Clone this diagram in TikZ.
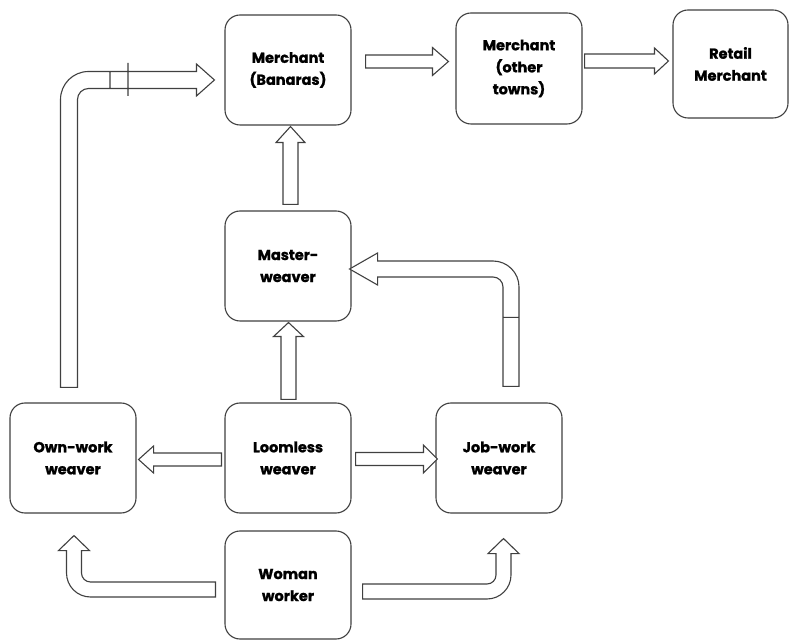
\documentclass[tikz,border=0pt]{standalone}
\usepackage{fontspec}
\setmainfont{Poppins}[BoldFeatures={FakeBold=1.2}]
\usetikzlibrary{calc}
\tikzset{
  box/.style={draw=black!75, line width=1.1pt, rounded corners=15pt, fill=white,
    minimum width=126pt, minimum height=110pt, inner sep=2pt, align=center,
    font=\bfseries\fontsize{14.5}{22}\selectfont},
  blk/.style={draw=black!75, line width=1.1pt, fill=white, line join=miter},
  tick/.style={draw=black!75, line width=1.1pt}
}
% straight horizontal block arrow: start, tip, signed head length, half shaft, half head
\newcommand\harr[5]{\draw[blk] let \p1=#1, \p2=#2 in
  (\x1,{\y1+#4}) -- ({\x2-(#3)},{\y1+#4}) -- ({\x2-(#3)},{\y1+#5}) -- (\x2,\y1)
  -- ({\x2-(#3)},{\y1-#5}) -- ({\x2-(#3)},{\y1-#4}) -- (\x1,{\y1-#4}) -- cycle;}
% straight vertical block arrow
\newcommand\varr[5]{\draw[blk] let \p1=#1, \p2=#2 in
  ({\x1+#4},\y1) -- ({\x1+#4},{\y2-(#3)}) -- ({\x1+#5},{\y2-(#3)}) -- (\x1,\y2)
  -- ({\x1-#5},{\y2-(#3)}) -- ({\x1-#4},{\y2-(#3)}) -- ({\x1-#4},\y1) -- cycle;}
\begin{document}
\begin{tikzpicture}[x=1pt,y=1pt]
\useasboundingbox (0,0) rectangle (789,640);
\fill[white] (0,0) rectangle (789,640);

\node[box] (mb) at (288,570) {Merchant\\(Banaras)};
\node[box, minimum height=111pt] (mo) at (519,571.5) {Merchant\\(other\\towns)};
\node[box, minimum width=115pt, minimum height=108pt] (rm) at (730.5,576) {Retail\\Merchant};
\node[box] (mw) at (288,374) {Master-\\weaver};
\node[box] (ow) at (73,182) {Own-work\\weaver};
\node[box] (lw) at (288,182) {Loomless\\weaver};
\node[box] (jw) at (499,182) {Job-work\\weaver};
\node[box, minimum height=108pt] (ww) at (288,55) {Woman\\worker};

% straight arrows
\harr{($(mb.east)+(14,8.5)$)}{($(mo.west)+(-7,0)$)}{16pt}{6.5pt}{14pt}
\harr{($(mo.east)+(2,7.5)$)}{($(rm.west)+(-4,0)$)}{14pt}{7pt}{13pt}
\varr{($(mw.north)+(2.5,6)$)}{($(mb.south)+(0,-1)$)}{16pt}{7.5pt}{14.5pt}
\varr{($(lw.north)+(0.5,3)$)}{($(mw.south)+(0,-1)$)}{14pt}{7.5pt}{15pt}
\harr{($(lw.west)+(-3,-1.5)$)}{($(ow.east)+(2,0)$)}{-15pt}{6.5pt}{13.5pt}
\harr{($(lw.east)+(4,-1)$)}{($(jw.west)+(2,0)$)}{14pt}{6.5pt}{14pt}

% own-work weaver -> merchant (Banaras)
\draw[blk] let \p1=($(ow.north)+(-4,15)$), \p2=($(mb.west)+(-10,-10)$) in
  ({\x1-8.5pt},\y1) -- ({\x1-8.5pt},{\y2+8.5pt-28pt}) arc[start angle=180,end angle=90,radius=28pt]
  -- ({\x2-18pt},{\y2+8.5pt}) -- ({\x2-18pt},{\y2+16pt}) -- (\x2,\y2) -- ({\x2-18pt},{\y2-16pt})
  -- ({\x2-18pt},{\y2-8.5pt}) -- ({\x1+8.5pt+11pt},{\y2-8.5pt}) arc[start angle=90,end angle=180,radius=11pt]
  -- ({\x1+8.5pt},\y1) -- cycle
  ({\x1+41pt},{\y2+8.5pt}) -- ({\x1+41pt},{\y2-8.5pt})
  ({\x1+59pt},{\y2+17pt}) -- ({\x1+59pt},{\y2-16pt});

% job-work weaver -> master-weaver
\draw[blk] let \p1=($(jw.north)+(12,16)$), \p2=($(mw.east)+(-2,-3)$) in
  ({\x1+8pt},\y1) -- ({\x1+8pt},{\y2+8pt-26pt}) arc[start angle=0,end angle=90,radius=26pt]
  -- ({\x2+28pt},{\y2+8pt}) -- ({\x2+28pt},{\y2+16pt}) -- (\x2,\y2) -- ({\x2+28pt},{\y2-16pt})
  -- ({\x2+28pt},{\y2-8pt}) -- ({\x1-8pt-10pt},{\y2-8pt}) arc[start angle=90,end angle=0,radius=10pt]
  -- ({\x1-8pt},\y1) -- cycle
  ({\x1-8pt},{\y1+69pt}) -- ({\x1+8pt},{\y1+69pt});

% woman worker -> own-work weaver
\draw[blk] let \p1=($(ww.west)+(-9,-4.5)$), \p2=($(ow.south)+(1,-22)$) in
  (\x1,{\y1+7.5pt}) -- ({\x2+7.5pt+9pt},{\y1+7.5pt}) arc[start angle=270,end angle=180,radius=9pt]
  -- ({\x2+7.5pt},{\y2-15pt}) -- ({\x2+15.5pt},{\y2-15pt}) -- (\x2,\y2) -- ({\x2-15.5pt},{\y2-15pt})
  -- ({\x2-7.5pt},{\y2-15pt}) -- ({\x2-7.5pt},{\y1-7.5pt+24pt}) arc[start angle=180,end angle=270,radius=24pt]
  -- (\x1,{\y1-7.5pt}) -- cycle;

% woman worker -> job-work weaver
\draw[blk] let \p1=($(ww.east)+(11,-6.5)$), \p2=($(jw.south)+(4.5,-25)$) in
  (\x1,{\y1+7.5pt}) -- ({\x2-7.5pt-9pt},{\y1+7.5pt}) arc[start angle=270,end angle=360,radius=9pt]
  -- ({\x2-7.5pt},{\y2-15pt}) -- ({\x2-15.5pt},{\y2-15pt}) -- (\x2,\y2) -- ({\x2+15.5pt},{\y2-15pt})
  -- ({\x2+7.5pt},{\y2-15pt}) -- ({\x2+7.5pt},{\y1-7.5pt+24pt}) arc[start angle=0,end angle=-90,radius=24pt]
  -- (\x1,{\y1-7.5pt}) -- cycle;
\end{tikzpicture}
\end{document}
